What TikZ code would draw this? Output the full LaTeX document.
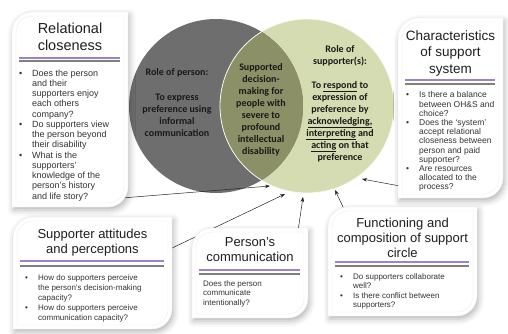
\documentclass[tikz,border=0pt]{standalone}
\usepackage{fontspec}
\setmainfont{Liberation Sans}
\newfontfamily\carlito{Carlito}
\usetikzlibrary{shadows.blur,arrows.meta}
\definecolor{darkc}{HTML}{6E6E6E}
\definecolor{lightc}{HTML}{D6DCB2}
\definecolor{lensc}{HTML}{8B9066}
\definecolor{purp}{HTML}{9C83CC}
\definecolor{greyl}{HTML}{808080}
\definecolor{txt}{HTML}{333333}
\newcommand\bl{\makebox[13pt][l]{\textbullet}}
\newcommand\ind{\hspace*{13pt}}
\newcommand\rbox[4]{%
 \path[boxfill] (#1,{(#2+#4)/2}) [rounded corners=20pt] -- (#1,#2) -- ({(#1+#3)/2},#2) [sharp corners] -- (#3,#2) -- (#3,{(#2+#4)/2}) [rounded corners=20pt] -- (#3,#4) -- ({(#1+#3)/2},#4) [sharp corners] -- (#1,#4) -- cycle;
 \path[boxinner] ({#1+4},{(#2+#4)/2}) [rounded corners=16pt] -- ({#1+4},{#2+4}) -- ({(#1+#3)/2},{#2+4}) [sharp corners] -- ({#3-4},{#2+4}) -- ({#3-4},{(#2+#4)/2}) [rounded corners=16pt] -- ({#3-4},{#4-4}) -- ({(#1+#3)/2},{#4-4}) [sharp corners] -- ({#1+4},{#4-4}) -- cycle;
}
\newcommand\seps[4]{% x1 x2 ypurple ygrey
 \draw[purp, line width=1.1pt] ({#1+7},#3) -- ({#2-8},#3);
 \draw[greyl, line width=1.1pt] ({#1+7},#4) -- ({#2-8},#4);
}
\begin{document}
\begin{tikzpicture}[x=1pt,y=-1pt,
  boxfill/.style={fill=white, draw=black!8, line width=0.4pt,
    blur shadow={shadow xshift=1.5pt, shadow yshift=-3pt, shadow blur radius=6pt, shadow opacity=30}},
  boxinner/.style={draw=black!7, line width=0.4pt},
  ctext/.style={font=\carlito\bfseries\fontsize{10}{12}\selectfont, align=center, inner sep=0pt, text=black!90},
  ttl/.style={font=\fontsize{13}{15}\selectfont, align=center, inner sep=0pt, text=black!88, anchor=north},
  bodytext/.style={font=\fontsize{8}{10}\selectfont, align=left, inner sep=0pt, text=txt, anchor=north west},
  arr/.style={-{Stealth[length=5pt,width=3.6pt]}, line width=0.5pt, draw=black!85},
  ]
\useasboundingbox (0,0) rectangle (508,333);
% Venn
\node[circle, fill=lightc, minimum size=174pt, inner sep=0pt] (R) at (307,106) {};
\node[circle, fill=darkc, minimum size=174pt, inner sep=0pt] (L) at (216,106) {};
\begin{scope}
  \clip (307,106) circle (87);
  \fill[lensc] (216,106) circle (87);
\end{scope}
\draw[white!85!lightc, line width=0.8pt] (307,106) circle (87);
\node[ctext, anchor=north] (lt) at (177,68) {Role of person:\\[13pt]To express\\preference using\\informal\\communication};
\node[ctext, anchor=north] (ct) at (261,63) {Supported\\decision-\\making for\\people with\\severe to\\profound\\intellectual\\disability};
\node[ctext, anchor=north] (rt) at (340,45) {Role of\\supporter(s):\\[12pt]To \underline{respond} to\\expression of\\preference by\\\underline{acknowledging,}\\\underline{interpreting} and\\\underline{acting} on that\\preference};
% arrows
\coordinate (s1) at (122,198); \coordinate (e1) at (270,186);
\coordinate (s2) at (170,249); \coordinate (e2) at (285,194);
\coordinate (s3) at (298,231); \coordinate (e3) at (303,197);
\coordinate (s4) at (344,209); \coordinate (e4) at (335,190);
\coordinate (s5) at (400,186); \coordinate (e5) at (362,179);
\draw[arr] (s1) -- (e1);
\draw[arr] (s2) -- (e2);
\draw[arr] (s3) -- (e3);
\draw[arr] (s4) -- (e4);
\draw[arr] (s5) -- (e5);
% Box 1
\rbox{12}{12}{128}{207}
\node[ttl, font=\fontsize{14.5}{17}\selectfont] (t1) at (70,23) {Relational\\closeness};
\seps{12}{128}{58}{61}
\node[bodytext, font=\fontsize{9}{10.25}\selectfont] (b1) at (19,69.5) {\bl Does the person\\\ind and their\\\ind supporters enjoy\\\ind each others\\\ind company?\\\bl Do supporters view\\\ind the person beyond\\\ind their disability\\\bl What is the\\\ind supporters’\\\ind knowledge of the\\\ind person’s history\\\ind and life story?};
% Box 2
\rbox{398}{18}{503}{198}
\node[ttl, font=\fontsize{13.5}{16.5}\selectfont] (t2) at (450.5,30.5) {Characteristics\\of support\\system};
\seps{398}{503}{80}{84}
\node[bodytext, font=\fontsize{8.5}{9.2}\selectfont] (b2) at (406,91.5) {\bl Is there a balance\\\ind between OH\&S and\\\ind choice?\\\bl Does the ‘system’\\\ind accept relational\\\ind closeness between\\\ind person and paid\\\ind supporter?\\\bl Are resources\\\ind allocated to the\\\ind process?};
% Box 3
\rbox{13}{217}{172}{329}
\node[ttl] (t3) at (92.5,229) {Supporter attitudes\\and perceptions};
\seps{13}{172}{261}{266}
\node[bodytext] (b3) at (25,274) {\bl How do supporters perceive\\\ind the person’s decision-making\\\ind capacity?\\\bl How do supporters perceive\\\ind communication capacity?};
% Box 4
\rbox{192}{228}{308}{318}
\node[ttl] (t4) at (250,237) {Person’s\\communication};
\seps{192}{308}{270}{274}
\node[bodytext, font=\fontsize{8}{9.5}\selectfont] (b4) at (203,280) {Does the person\\communicate\\intentionally?};
% Box 5
\rbox{328}{207}{477}{316}
\node[ttl] (t5) at (402.5,218) {Functioning and\\composition of support\\circle};
\seps{328}{477}{262}{266}
\node[bodytext, font=\fontsize{8}{9.5}\selectfont] (b5) at (340,273) {\bl Do supporters collaborate\\\ind well?\\\bl Is there conflict between\\\ind supporters?};
\end{tikzpicture}
\end{document}
